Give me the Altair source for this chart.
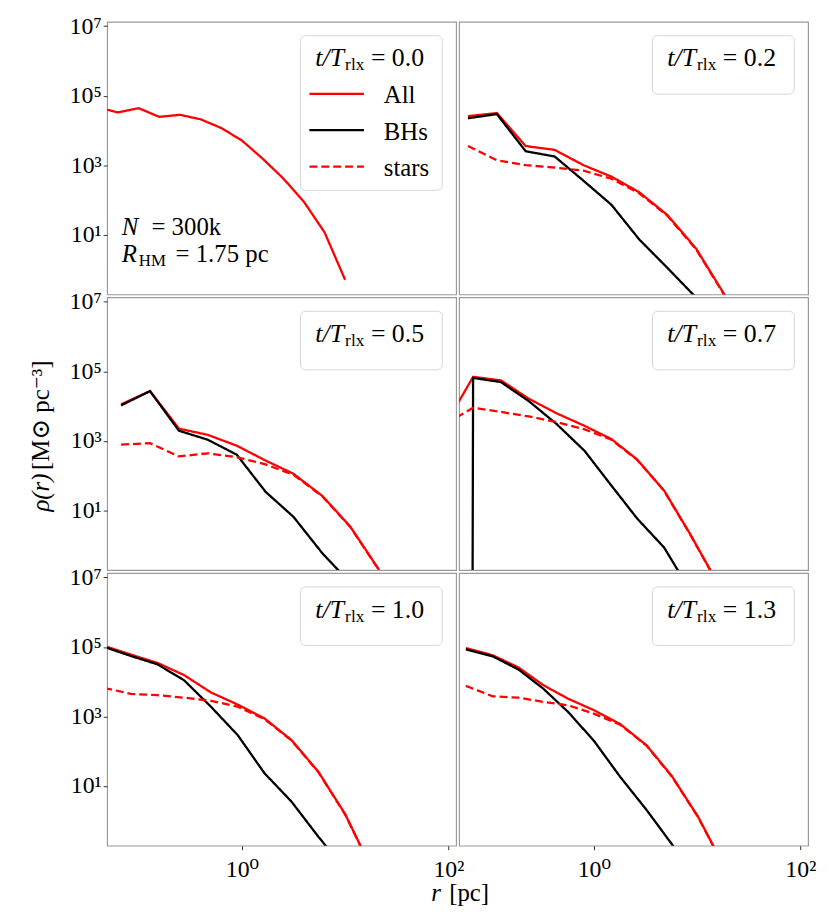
import altair as alt
import pandas as pd

# ---------------- data (log10 values) ----------------
time_labels = ["0.0", "0.2", "0.5", "0.7", "1.0", "1.3"]

# t/Trlx = 0.0
logr_00 = [-1.4, -1.2, -1.0, -0.8, -0.6, -0.4, -0.2, 0.0, 0.2, 0.4, 0.6, 0.8, 1.0]
all_00 = [4.66, 4.52, 4.64, 4.39, 4.45, 4.32, 4.07, 3.71, 3.19, 2.62, 1.95, 1.07, -0.30]

# t/Trlx = 0.2
logr_02 = [-1.22, -0.94, -0.66, -0.38, -0.10, 0.17, 0.44, 0.71, 0.99, 1.27]
all_02 = [4.41, 4.50, 3.55, 3.44, 3.00, 2.67, 2.22, 1.57, 0.60, -0.75]
bh_02 = [4.35, 4.47, 3.40, 3.25, 2.55, 1.86, 0.86, 0.05, -0.81, -2.0]
st_02 = [3.55, 3.14, 3.00, 2.93, 2.84, 2.61, 2.19, 1.55, 0.58, -0.77]

# t/Trlx = 0.5
logr_05 = [-1.17, -0.89, -0.61, -0.33, -0.05, 0.23, 0.50, 0.78, 1.05, 1.33]
all_05 = [4.05, 4.43, 3.35, 3.17, 2.86, 2.43, 2.05, 1.41, 0.53, -0.72]
bh_05 = [4.02, 4.43, 3.29, 3.03, 2.60, 1.53, 0.81, -0.24, -1.09, -2.2]
st_05 = [2.89, 2.93, 2.55, 2.64, 2.53, 2.32, 2.02, 1.40, 0.52, -0.73]

# t/Trlx = 0.7  (innermost BH bin is empty: density 0 -> -300 in log)
logr_07 = [-1.43, -1.17, -0.90, -0.63, -0.36, -0.09, 0.17, 0.42, 0.68, 0.93, 1.19]
all_07 = [3.50, 4.84, 4.74, 4.21, 3.79, 3.43, 3.05, 2.46, 1.57, 0.33, -1.05]
bh_07 = [-300, 4.81, 4.69, 4.14, 3.48, 2.71, 1.71, 0.76, -0.07, -1.3, -2.5]
st_07 = [3.50, 3.95, 3.83, 3.70, 3.54, 3.33, 3.03, 2.45, 1.56, 0.32, -1.06]

# t/Trlx = 1.0
logr_10 = [-1.334, -1.076, -0.818, -0.56, -0.30, -0.04, 0.22, 0.48, 0.74, 1.0, 1.25]
all_10 = [5.03, 4.78, 4.54, 4.19, 3.69, 3.34, 2.94, 2.32, 1.41, 0.19, -1.34]
bh_10 = [5.0, 4.74, 4.50, 4.04, 3.28, 2.46, 1.36, 0.55, -0.46, -1.4, -2.6]
st_10 = [3.82, 3.65, 3.61, 3.54, 3.45, 3.28, 2.92, 2.31, 1.40, 0.18, -1.35]

# t/Trlx = 1.3
logr_13 = [-1.24, -0.98, -0.73, -0.49, -0.25, 0.0, 0.255, 0.51, 0.756, 1.01, 1.26]
all_13 = [4.97, 4.76, 4.41, 3.90, 3.51, 3.18, 2.78, 2.17, 1.28, 0.11, -1.31]
bh_13 = [4.93, 4.73, 4.35, 3.80, 3.13, 2.30, 1.26, 0.31, -0.68, -1.8, -3.0]
st_13 = [3.88, 3.58, 3.54, 3.42, 3.32, 3.08, 2.76, 2.16, 1.27, 0.10, -1.32]

panels = [
    ("0.0", logr_00, {"All": all_00}),
    ("0.2", logr_02, {"All": all_02, "BHs": bh_02, "stars": st_02}),
    ("0.5", logr_05, {"All": all_05, "BHs": bh_05, "stars": st_05}),
    ("0.7", logr_07, {"All": all_07, "BHs": bh_07, "stars": st_07}),
    ("1.0", logr_10, {"All": all_10, "BHs": bh_10, "stars": st_10}),
    ("1.3", logr_13, {"All": all_13, "BHs": bh_13, "stars": st_13}),
]

rows = []
for lab, lr, series in panels:
    for name, vals in series.items():
        for a, b in zip(lr, vals):
            rows.append({"panel": lab, "series": name, "r": 10 ** a, "rho": 10 ** b})
df = pd.DataFrame(rows)

series_names = ["All", "BHs", "stars"]
series_colors = ["#ff0000", "#000000", "#ff0000"]
series_dash = [[1, 0], [1, 0], [8, 4]]

y_ticks = [1e1, 1e3, 1e5, 1e7]
x_ticks = [1, 100]

FONT = "Liberation Serif, DejaVu Serif, serif"
W, H = 352, 275
XDOM = [0.0495, 119]
YDOM = [0.19, 1.34e7]
SUP = "'10' + ['⁰','¹','²','³','⁴','⁵','⁶','⁷'][round(log(datum.value)/LN10)]"


def txt(s, x, y, size=24, italic=False, angle=0):
    return alt.Chart(pd.DataFrame({"s": [s]})).mark_text(
        align="left", baseline="alphabetic", font=FONT, fontSize=size,
        fontStyle="italic" if italic else "normal", color="black", angle=angle
    ).encode(x=alt.value(x), y=alt.value(y), text="s:N")


def box(y2):
    return alt.Chart(pd.DataFrame({"a": [0]})).mark_rect(
        cornerRadius=5, fill="white", fillOpacity=0.8, stroke="#d6d6d6", strokeWidth=1
    ).encode(x=alt.value(195), x2=alt.value(338), y=alt.value(14), y2=alt.value(y2))


def legend_title(lab):
    return [
        txt("t/T", 210, 45, 26, italic=True),
        txt("rlx", 240, 49, 17.5),
        txt("= " + lab, 266, 45, 26),
    ]


def panel(idx):
    lab = panels[idx][0]
    left = idx % 2 == 0
    bottom = idx >= 4
    yaxis = alt.Axis(
        values=y_ticks, labelExpr=SUP, labelFont=FONT, labelFontSize=24,
        tickSize=4, tickColor="#333", domain=False, grid=False, labelPadding=2, title=None,
    ) if left else None
    xaxis = alt.Axis(
        values=x_ticks, labelExpr=SUP, labelFont=FONT, labelFontSize=24,
        tickSize=4, tickColor="#333", domain=False, grid=False, labelPadding=8, title=None,
    ) if bottom else None
    xenc = alt.X("r:Q", scale=alt.Scale(type="log", domain=XDOM, nice=False, zero=False), axis=xaxis)
    yenc = alt.Y("rho:Q", scale=alt.Scale(type="log", domain=YDOM, nice=False, zero=False), axis=yaxis)
    base = alt.Chart(df).transform_filter(alt.datum.panel == lab)
    layers = []
    for name, col, dash in zip(series_names, series_colors, series_dash):
        if name not in panels[idx][2]:
            continue
        layers.append(
            base.transform_filter(alt.datum.series == name)
            .mark_line(color=col, strokeDash=dash, strokeWidth=2.3, clip=True)
            .encode(x=xenc, y=yenc)
        )
    if idx == 0:
        layers.append(box(170))
        layers += legend_title(lab)
        ys = [72.7, 109.3, 146]
        for name, col, dash, yy in zip(series_names, series_colors, series_dash, ys):
            layers.append(
                alt.Chart(pd.DataFrame({"a": [0]})).mark_rule(color=col, strokeDash=dash, strokeWidth=2.3)
                .encode(x=alt.value(204), x2=alt.value(259), y=alt.value(yy))
            )
            layers.append(txt(name, 279, yy + 9.5, 25))
        layers += [
            txt("N", 14.7, 215, 25, italic=True),
            txt("= 300k", 44.7, 215, 25),
            txt("R", 14.7, 242, 25, italic=True),
            txt("HM", 32, 246, 17),
            txt("= 1.75 pc", 69, 242, 25),
        ]
    else:
        layers.append(box(73))
        layers += legend_title(lab)
    if idx == 2:  # shared y-axis title, centred on the middle row
        layers += [
            txt("ρ(r)", -59, 216, 25, italic=True, angle=270),
            txt("[M⊙ pc⁻³]", -59, 174, 25, angle=270),
        ]
    if idx == 4:  # shared x-axis title, centred under both columns
        layers += [
            txt("r", 327, 331, 25, italic=True),
            txt("[pc]", 345, 331, 25),
        ]
    return alt.layer(*layers).properties(width=W, height=H)


ps = [panel(i) for i in range(6)]
chart = alt.concat(*ps, columns=2, spacing=3, bounds="flush").properties(
    padding={"left": 20, "top": 1, "right": 5, "bottom": 5}
).configure_view(stroke="#9a9a9a", strokeWidth=1.2)

chart.save("out.html", embed_options={"renderer": "svg", "actions": False})
